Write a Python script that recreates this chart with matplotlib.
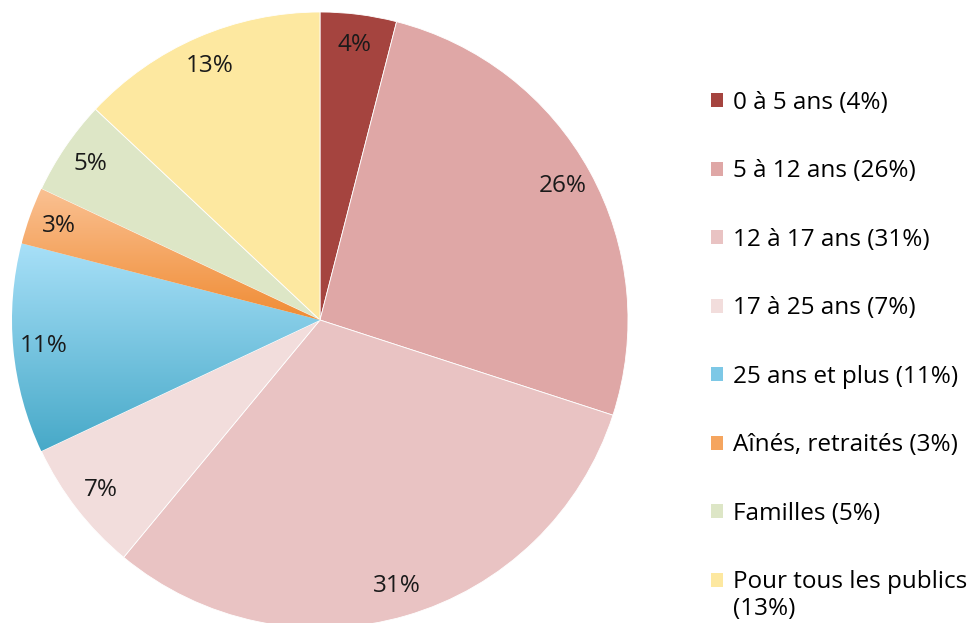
import numpy as np
import matplotlib
matplotlib.use("Agg")
import matplotlib.pyplot as plt
from matplotlib.colors import LinearSegmentedColormap
from matplotlib.patches import Patch

# data
categories = ["0 à 5 ans", "5 à 12 ans", "12 à 17 ans", "17 à 25 ans",
              "25 ans et plus", "Aînés, retraités", "Familles", "Pour tous les publics"]
values = [4, 26, 31, 7, 11, 3, 5, 13]
colors = ["#A5443F", "#DFA7A6", "#E9C3C3", "#F2DDDC",
          "#7DC8E6", "#F5A55F", "#DDE6C6", "#FDE8A0"]
# gradients (top colour, bottom colour) for some slices
gradients = {4: ("#A8E0F8", "#47A9C8"), 5: ("#FAC193", "#F08C34")}

plt.rcParams['font.family'] = ['Open Sans', 'DejaVu Sans']
fs = 17.5

W, H = 972, 623
fig = plt.figure(figsize=(W / 100, H / 100), dpi=100)
cx, cy, r = 320, 320, 308
ax = fig.add_axes([(cx - r) / W, (H - cy - r) / H, 2 * r / W, 2 * r / H])
ax.set_axis_off()

wedges, texts, autotexts = ax.pie(values, colors=colors, startangle=90, counterclock=False,
                                  autopct="%d%%", pctdistance=0.9, radius=1,
                                  wedgeprops=dict(linewidth=0.6, edgecolor="white"),
                                  textprops=dict(fontsize=fs, color="#1a1a1a"))

# vertical gradient fill for the blue and orange slices
for i, (c_top, c_bot) in gradients.items():
    w = wedges[i]
    ext = w.get_path().get_extents(w.get_patch_transform())
    cmap = LinearSegmentedColormap.from_list("g%d" % i, [c_bot, c_top])
    grad = np.linspace(0, 1, 256).reshape(-1, 1)
    im = ax.imshow(grad, cmap=cmap, origin="lower", aspect="auto",
                   extent=(ext.x0, ext.x1, ext.y0, ext.y1), zorder=w.get_zorder())
    im.set_clip_path(w)
    w.set_facecolor("none")

ax.set_xlim(-1, 1)
ax.set_ylim(-1, 1)

# legend
labels = ["%s (%d%%)" % (c, v) for c, v in zip(categories, values)]
labels[-1] = categories[-1]  # percentage goes on a second line, below
handles = [Patch(facecolor=c, edgecolor="none") for c in colors]
leg = fig.legend(handles, labels, loc="upper left", bbox_to_anchor=(711 / W, 1 - 91 / H),
                 frameon=False, fontsize=fs, handlelength=0.5, handleheight=0.5,
                 handletextpad=0.4, labelspacing=1.83, borderaxespad=0, borderpad=0)
fig.canvas.draw()  # so the legend text has a position
last = leg.get_texts()[-1]
ax.annotate("(%d%%)" % values[-1], xy=(0, 0), xycoords=last, xytext=(0, -2),
            textcoords="offset points", ha="left", va="top", fontsize=fs, color="black",
            annotation_clip=False)

fig.savefig("out.png", dpi=100)
